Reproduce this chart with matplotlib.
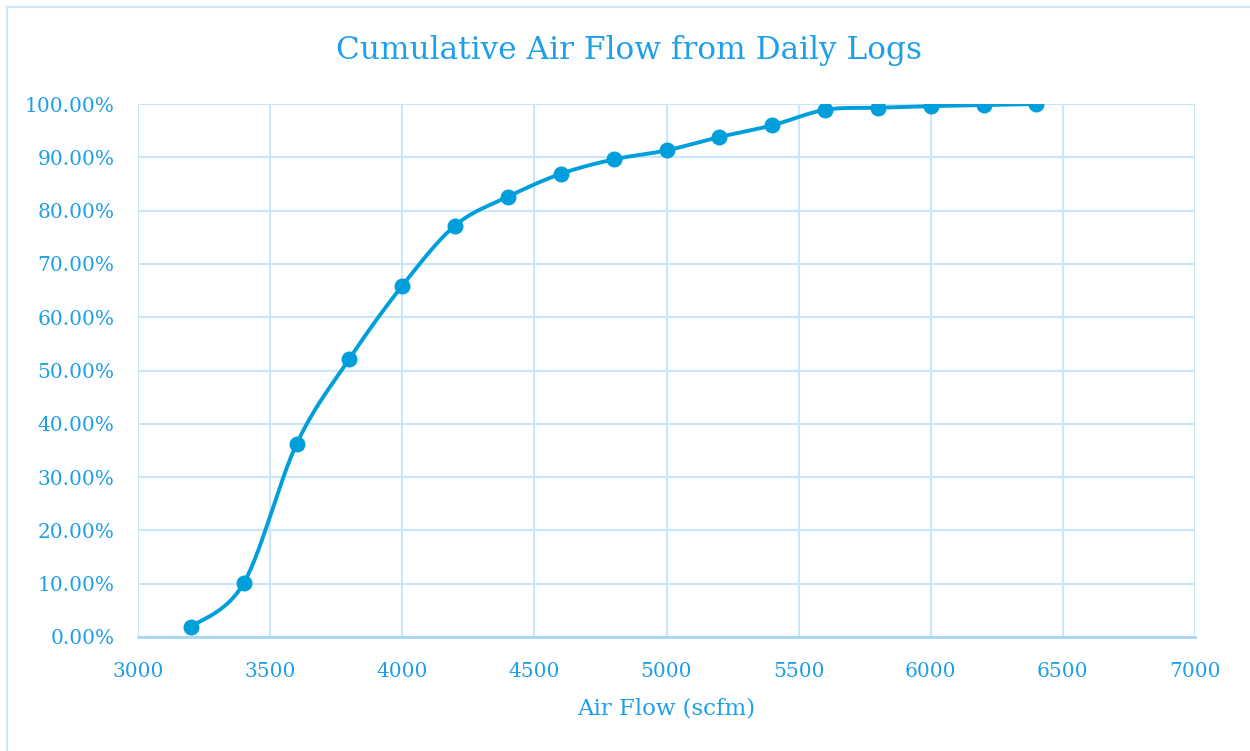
import numpy as np
import matplotlib.pyplot as plt
from matplotlib.patches import Rectangle

# Data
airflow = [3200, 3400, 3600, 3800, 4000, 4200, 4400, 4600, 4800,
           5000, 5200, 5400, 5600, 5800, 6000, 6200, 6400]
cumulative = [0.019, 0.101, 0.362, 0.522, 0.659, 0.772, 0.826, 0.869, 0.896,
              0.913, 0.938, 0.960, 0.989, 0.993, 0.996, 0.998, 1.000]

xticks = list(range(3000, 7001, 500))
yticks = [i / 10 for i in range(11)]

txt_color = '#1E9FE8'
line_color = '#009FDB'
grid_color = '#C9E7FB'
axis_color = '#A6D7F7'


def smooth(x, y, n=30):
    # Excel-like smoothed line (Catmull-Rom through the points)
    x = np.asarray(x, float)
    y = np.asarray(y, float)
    px = np.concatenate([[x[0]], x, [x[-1]]])
    py = np.concatenate([[y[0]], y, [y[-1]]])
    xs, ys = [], []
    t = np.linspace(0, 1, n)
    for i in range(1, len(px) - 2):
        p0, p1, p2, p3 = [np.array([px[j], py[j]]) for j in (i - 1, i, i + 1, i + 2)]
        c1 = p1 + (p2 - p0) / 6
        c2 = p2 - (p3 - p1) / 6
        b = ((1 - t) ** 3)[:, None] * p1 + (3 * (1 - t) ** 2 * t)[:, None] * c1 \
            + (3 * (1 - t) * t ** 2)[:, None] * c2 + (t ** 3)[:, None] * p2
        xs.extend(b[:, 0])
        ys.extend(b[:, 1])
    return xs, ys


plt.rcParams['font.family'] = ['DejaVu Serif']

fig = plt.figure(figsize=(12.5, 7.51), dpi=100)
ax = fig.add_axes([138 / 1250, 1 - 637 / 751, (1195 - 138) / 1250, (637 - 104) / 751])

# chart area border
fig.patches.append(Rectangle((7 / 1250, -0.01), 1.1, 1 - 7 / 751 + 0.01,
                             transform=fig.transFigure, fill=False,
                             edgecolor=grid_color, linewidth=1.5))

sx, sy = smooth(airflow, cumulative)
ax.plot(sx, sy, color=line_color, linewidth=2.8, zorder=3)
ax.plot(airflow, cumulative, 'o', color=line_color, markersize=10.5, zorder=4)

ax.set_xlim(3000, 7000)
ax.set_ylim(0, 1)
ax.set_xticks(xticks)
ax.set_yticks(yticks)
ax.set_yticklabels(['{:.2f}%'.format(v * 100) for v in yticks])
ax.grid(color=grid_color, linewidth=1.5)
ax.set_axisbelow(True)
for s in ['top', 'right', 'left']:
    ax.spines[s].set_visible(False)
ax.spines['bottom'].set_color(axis_color)
ax.spines['bottom'].set_linewidth(2)
ax.tick_params(length=0, labelsize=14.5, colors=txt_color)
ax.tick_params(axis='y', pad=17)
ax.tick_params(axis='x', pad=18)

ax.set_xlabel('Air Flow (scfm)', fontsize=16.5, color=txt_color, labelpad=12)
fig.text(629 / 1250, 1 - 50 / 751, 'Cumulative Air Flow from Daily Logs',
         ha='center', va='center', fontsize=22.5, color=txt_color)

fig.savefig('out.png')
